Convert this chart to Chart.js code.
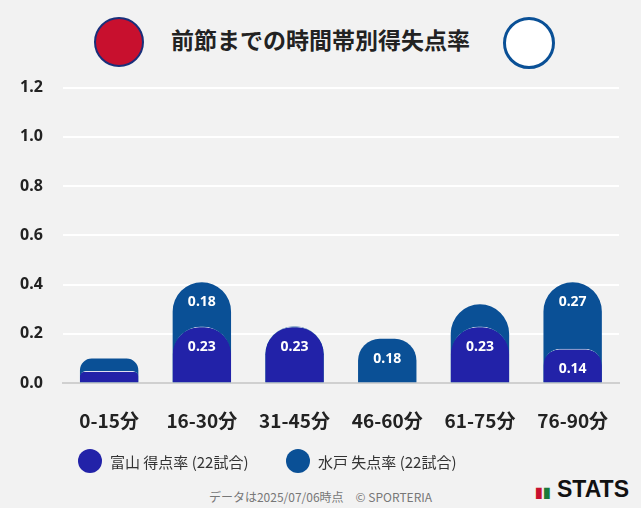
<!DOCTYPE html>
<html><head><meta charset="utf-8">
<script src="https://cdn.jsdelivr.net/npm/chart.js@4"></script>
<style>
body{margin:0;background:#f2f2f2;font-family:"Noto Sans CJK JP","Noto Sans",sans-serif;}
#wrap{position:relative;width:641px;height:508px;}
#c{position:absolute;left:0;top:58px;}
h1{position:absolute;top:22px;left:0;width:641px;text-align:center;margin:0;font-size:23px;font-weight:700;color:#222;}
.logo{position:absolute;top:17px;width:46px;height:46px;border-radius:50%;}
.leg{position:absolute;top:449px;font-size:15px;color:#333;display:flex;align-items:center;}
.dot{width:24px;height:24px;border-radius:50%;margin-right:8px;display:inline-block;}
#foot{position:absolute;top:488px;left:0;width:641px;text-align:center;font-size:12px;color:#777;}
#stats{position:absolute;right:12px;top:476px;font-family:"Liberation Sans",sans-serif;font-weight:900;font-size:23px;color:#111;}
</style></head><body><div id="wrap">
<div class="logo" style="left:94px;background:#c8102e;border:2px solid #1a2f7a;"></div>
<div class="logo" style="left:503px;background:#fff;border:3px solid #0a5096;"></div>
<h1>前節までの時間帯別得失点率</h1>
<canvas id="c" width="641" height="392"></canvas>
<div class="leg" style="left:78px"><span class="dot" style="background:#2222a8"></span>富山 得点率 (22試合)</div>
<div class="leg" style="left:286px"><span class="dot" style="background:#0a5096"></span>水戸 失点率 (22試合)</div>
<div id="foot">データは2025/07/06時点　© SPORTERIA</div>
<div id="stats"><span style="color:#c8102e;font-size:14px">▮</span><span style="color:#1a7a3a;font-size:14px">▮</span> STATS</div>
</div>
<script>
const categories=["0-15分","16-30分","31-45分","46-60分","61-75分","76-90分"];
const toyamaScored=[0.05,0.23,0.23,0,0.23,0.14];
const mitoConceded=[0.05,0.18,0,0.18,0.09,0.27];
const yTicks=[0,0.2,0.4,0.6,0.8,1.0,1.2];
const mitoTop=toyamaScored.map((v,i)=>v+mitoConceded[i]);
const labelPlugin={id:'lbl',afterDatasetsDraw(ch){
  const ctx=ch.ctx;ctx.save();ctx.fillStyle='#fff';ctx.font='bold 14px "Noto Sans","Noto Sans CJK JP"';ctx.textAlign='center';ctx.textBaseline='middle';
  const y=ch.scales.y;
  ch.getDatasetMeta(0).data.forEach((b,i)=>{if(toyamaScored[i]>=0.1)ctx.fillText(toyamaScored[i].toFixed(2),b.x,y.getPixelForValue(toyamaScored[i])+20);});
  ch.getDatasetMeta(1).data.forEach((b,i)=>{if(mitoConceded[i]>=0.1)ctx.fillText(mitoConceded[i].toFixed(2),b.x,y.getPixelForValue(mitoTop[i])+20);});
  ctx.restore();}};
new Chart(document.getElementById('c'),{type:'bar',
 data:{labels:categories,datasets:[
  {label:'富山',data:toyamaScored,backgroundColor:'#2222a8',borderColor:'#e0e0f0',borderWidth:{top:1,left:0,right:0,bottom:0},borderRadius:{topLeft:30,topRight:30},borderSkipped:'bottom',order:1},
  {label:'水戸',data:mitoTop,backgroundColor:'#0a5096',borderWidth:0,borderRadius:{topLeft:30,topRight:30},borderSkipped:'bottom',order:2}]},
 options:{responsive:false,animation:false,layout:{padding:{left:0,right:22,top:6}},
  plugins:{legend:{display:false},tooltip:{enabled:false}},
  datasets:{bar:{barPercentage:0.63,categoryPercentage:1}},
  scales:{x:{stacked:true,grid:{display:false},border:{color:'#d0d0d0',width:2},ticks:{color:'#222',font:{size:19,weight:'bold',family:'"Noto Sans CJK JP"'},padding:18}},
   y:{stacked:false,min:0,max:1.2,afterBuildTicks:a=>{a.ticks=yTicks.map(v=>({value:v}));},
    grid:{color:'#ffffff',lineWidth:2,drawTicks:false},border:{display:false},
    ticks:{color:'#222',font:{size:16,weight:'bold',family:'"Noto Sans"'},padding:20,callback:v=>v.toFixed(1)}}}},
 plugins:[labelPlugin]});
</script></body></html>
